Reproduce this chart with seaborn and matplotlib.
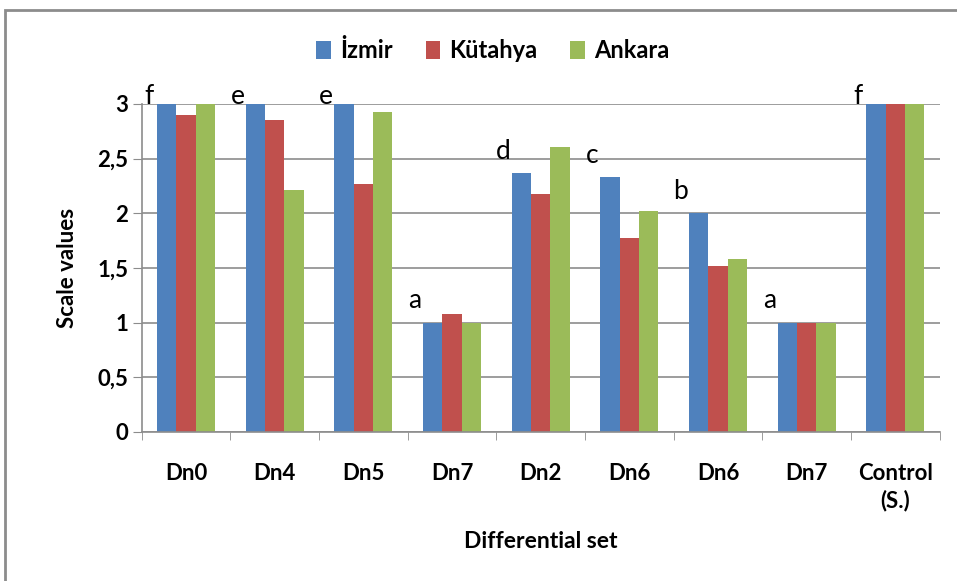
import pandas as pd
import numpy as np
import seaborn as sns
import matplotlib.pyplot as plt
from matplotlib.patches import Rectangle
from matplotlib.ticker import FuncFormatter, FixedLocator

## Data
sets = ['Dn0', 'Dn4', 'Dn5', 'Dn7', 'Dn2', 'Dn6', 'Dn6', 'Dn7', 'Control\n(S.)']
izmir = [3.0, 3.0, 3.0, 1.0, 2.37, 2.33, 2.0, 1.0, 3.0]
kutahya = [2.90, 2.85, 2.27, 1.08, 2.18, 1.77, 1.52, 1.0, 3.0]
ankara = [3.0, 2.21, 2.93, 1.0, 2.61, 2.02, 1.58, 1.0, 3.0]
letters = ['f', 'e', 'e', 'a', 'd', 'c', 'b', 'a', 'f']
sites = ['İzmir', 'Kütahya', 'Ankara']

rows = []
for i in range(len(sets)):
    rows.append({'pos': i, 'site': 'İzmir', 'value': izmir[i]})
    rows.append({'pos': i, 'site': 'Kütahya', 'value': kutahya[i]})
    rows.append({'pos': i, 'site': 'Ankara', 'value': ankara[i]})
df = pd.DataFrame(rows)

sns.set_style('white')
plt.rcParams['font.family'] = ['Lato', 'DejaVu Sans']
plt.rcParams['font.weight'] = 'bold'
plt.rcParams['text.color'] = 'black'
plt.rcParams['axes.labelcolor'] = 'black'
plt.rcParams['axes.labelweight'] = 'bold'

fig = plt.figure(figsize=(9.57, 5.81), dpi=100)
ax = fig.add_axes([0.148, 0.2565, 0.834, 0.5645])

palette = ['#4F81BD', '#C0504D', '#9BBB59']
sns.barplot(data=df, x='pos', y='value', hue='site', hue_order=sites,
            palette=palette, width=0.655, saturation=1, linewidth=0, ax=ax, legend=True)

ax.set_xlim(-0.5, len(sets) - 0.5)
ax.set_ylim(0, 3)
ax.set_yticks(np.arange(0, 3.01, 0.5))
ax.yaxis.set_major_formatter(FuncFormatter(lambda v, p: ('%g' % v).replace('.', ',')))
ax.grid(axis='y', color='#8c8c8c', linewidth=1.2)
ax.set_axisbelow(True)

ax.set_xticks(range(len(sets)))
ax.set_xticklabels(sets, fontsize=16, va='top', linespacing=1.35)
ax.xaxis.set_minor_locator(FixedLocator(np.arange(-0.5, len(sets), 1)))
ax.tick_params(axis='x', which='major', length=0, pad=22, labelcolor='black')
ax.tick_params(axis='x', which='minor', length=6, color='#8c8c8c', direction='out', bottom=True)
ax.tick_params(axis='y', length=6.5, color='#8c8c8c', direction='out', left=True, pad=3,
               labelcolor='black', labelsize=16)

for s in ['top', 'right']:
    ax.spines[s].set_visible(False)
for s in ['left', 'bottom']:
    ax.spines[s].set_color('#8c8c8c')
    ax.spines[s].set_linewidth(1.2)

## significance letters
for i, l in enumerate(letters):
    y = min(izmir[i] + 0.2, 3.07)
    ax.text(i - 0.42, y, l, ha='center', va='center', fontsize=19, fontweight='normal',
            clip_on=False)

ax.set_xlabel('Differential set', fontsize=16.5, labelpad=14)
ax.set_ylabel('Scale values', fontsize=16, labelpad=14)

leg = ax.legend(loc='center', bbox_to_anchor=(0.515, 0.913), bbox_transform=fig.transFigure,
                ncol=3, frameon=False, handlelength=0.6, handleheight=0.8,
                handletextpad=0.4, columnspacing=1.4, prop={'weight': 'bold', 'size': 17})

fig.patches.append(Rectangle((5 / 957, -0.01), 1.0, 1 - 10 / 581 + 0.01, transform=fig.transFigure,
                             fill=False, edgecolor='#8c8c8c', linewidth=2))

fig.savefig('out.png', dpi=100)
